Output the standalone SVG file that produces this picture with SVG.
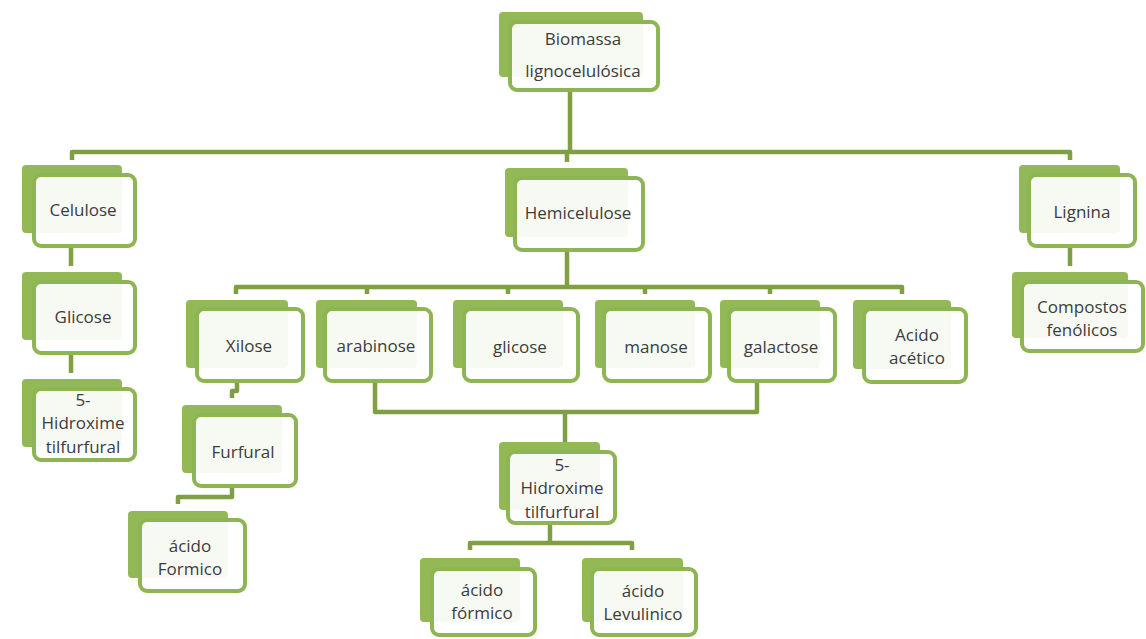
<svg xmlns="http://www.w3.org/2000/svg" width="1146" height="639" viewBox="0 0 1146 639">
<style>
.bk{fill:#93b956;}
.fr{fill:#ffffff;fill-opacity:0.92;stroke:#8eb553;stroke-width:4;}
.t{font-family:"Open Sans","Liberation Sans",sans-serif;font-size:17px;fill:#3c3c3c;text-anchor:middle;}
.c{fill:none;stroke:#7f9f45;stroke-width:4.5;stroke-linejoin:round;}
</style>
<rect width="1146" height="639" fill="#ffffff"/>
<g id="connectors">
<path class="c" d="M570,92 V152 M567,152 V162 M72,160 V152 H1070 V160"/>
<path class="c" d="M71,248 V266 M71,355 V373"/>
<path class="c" d="M1070,248 V266"/>
<path class="c" d="M567,252 V287 M236,294 V287 H902 V294 M367,287 V294 M508,287 V294 M645,287 V294 M770,287 V294"/>
<path class="c" d="M237,383 V391 H232 V398"/>
<path class="c" d="M232,488 V497 H178 V504"/>
<path class="c" d="M375,383 V412 H757 V383 M565,412 V442"/>
<path class="c" d="M550,525 V543 M470,550 V543 H632 V550"/>
</g>
<g id="biomassa">
<rect class="bk" x="499" y="12" width="144" height="65" rx="4"/>
<rect class="fr" x="510" y="22" width="148" height="68" rx="7"/>
<text class="t" x="583" y="45">Biomassa</text>
<text class="t" x="583" y="77">lignocelulósica</text>
</g>
<g id="celulose">
<rect class="bk" x="22" y="165" width="100" height="68" rx="4"/>
<rect class="fr" x="34" y="175" width="101" height="71" rx="7"/>
<text class="t" x="83" y="216">Celulose</text>
</g>
<g id="glicose-c">
<rect class="bk" x="22" y="272" width="100" height="68" rx="4"/>
<rect class="fr" x="34" y="282" width="101" height="71" rx="7"/>
<text class="t" x="83" y="323">Glicose</text>
</g>
<g id="hmf-left">
<rect class="bk" x="22" y="379" width="100" height="68" rx="4"/>
<rect class="fr" x="34" y="389" width="101" height="71" rx="7"/>
<text class="t" x="83" y="406">5-</text>
<text class="t" x="83" y="429">Hidroxime</text>
<text class="t" x="83" y="453">tilfurfural</text>
</g>
<g id="hemicelulose">
<rect class="bk" x="505" y="168" width="123" height="69" rx="4"/>
<rect class="fr" x="515" y="178" width="128" height="72" rx="7"/>
<text class="t" x="578" y="219">Hemicelulose</text>
</g>
<g id="lignina">
<rect class="bk" x="1019" y="165" width="101" height="68" rx="4"/>
<rect class="fr" x="1029" y="175" width="106" height="71" rx="7"/>
<text class="t" x="1082" y="218">Lignina</text>
</g>
<g id="compostos">
<rect class="bk" x="1012" y="272" width="116" height="66" rx="4"/>
<rect class="fr" x="1022" y="282" width="121" height="69" rx="7"/>
<text class="t" x="1082" y="313">Compostos</text>
<text class="t" x="1082" y="336">fenólicos</text>
</g>
<g id="xilose">
<rect class="bk" x="186" y="300" width="102" height="68" rx="4"/>
<rect class="fr" x="197" y="309" width="106" height="72" rx="7"/>
<text class="t" x="249" y="352">Xilose</text>
</g>
<g id="arabinose">
<rect class="bk" x="316" y="300" width="101" height="68" rx="4"/>
<rect class="fr" x="325" y="309" width="106" height="72" rx="7"/>
<text class="t" x="376" y="352">arabinose</text>
</g>
<g id="glicose">
<rect class="bk" x="453" y="300" width="110" height="68" rx="4"/>
<rect class="fr" x="464" y="309" width="114" height="72" rx="7"/>
<text class="t" x="520" y="353">glicose</text>
</g>
<g id="manose">
<rect class="bk" x="595" y="300" width="100" height="68" rx="4"/>
<rect class="fr" x="604" y="309" width="106" height="72" rx="7"/>
<text class="t" x="656" y="353">manose</text>
</g>
<g id="galactose">
<rect class="bk" x="720" y="300" width="100" height="68" rx="4"/>
<rect class="fr" x="729" y="309" width="106" height="72" rx="7"/>
<text class="t" x="781" y="353">galactose</text>
</g>
<g id="acido-acetico">
<rect class="bk" x="853" y="300" width="98" height="69" rx="4"/>
<rect class="fr" x="864" y="309" width="102" height="73" rx="7"/>
<text class="t" x="917" y="341">Acido</text>
<text class="t" x="917" y="364">acético</text>
</g>
<g id="furfural">
<rect class="bk" x="182" y="405" width="100" height="68" rx="4"/>
<rect class="fr" x="194" y="415" width="102" height="71" rx="7"/>
<text class="t" x="243" y="458">Furfural</text>
</g>
<g id="acido-formico-l">
<rect class="bk" x="128" y="511" width="100" height="67" rx="4"/>
<rect class="fr" x="140" y="520" width="105" height="71" rx="7"/>
<text class="t" x="190" y="552">ácido</text>
<text class="t" x="190" y="575">Formico</text>
</g>
<g id="hmf-center">
<rect class="bk" x="499" y="442" width="101" height="68" rx="4"/>
<rect class="fr" x="508" y="452" width="107" height="71" rx="7"/>
<text class="t" x="562" y="471">5-</text>
<text class="t" x="562" y="494">Hidroxime</text>
<text class="t" x="562" y="518">tilfurfural</text>
</g>
<g id="acido-formico-c">
<rect class="bk" x="420" y="558" width="100" height="64" rx="4"/>
<rect class="fr" x="432" y="569" width="103" height="66" rx="7"/>
<text class="t" x="482" y="596">ácido</text>
<text class="t" x="482" y="619">fórmico</text>
</g>
<g id="acido-levulinico">
<rect class="bk" x="582" y="558" width="101" height="64" rx="4"/>
<rect class="fr" x="592" y="569" width="104" height="66" rx="7"/>
<text class="t" x="643" y="597">ácido</text>
<text class="t" x="643" y="620">Levulinico</text>
</g>
</svg>
